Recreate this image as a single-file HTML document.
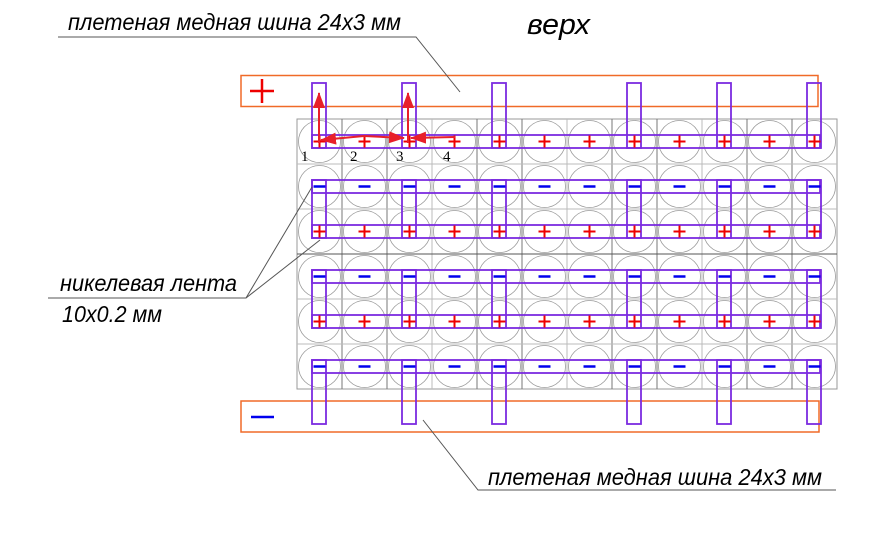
<!DOCTYPE html>
<html><head><meta charset="utf-8"><style>
html,body{margin:0;padding:0;background:#fff}
svg{display:block}
text{font-family:"Liberation Sans",sans-serif;font-style:italic}
</style></head><body>
<svg id="s" width="885" height="540" viewBox="0 0 885 540" xmlns="http://www.w3.org/2000/svg">
<defs>
<marker id="ah" markerWidth="16" markerHeight="12" refX="15" refY="6" orient="auto" markerUnits="userSpaceOnUse">
<path d="M0,0 L16,6 L0,12 z" fill="#e8202a"/>
</marker>
</defs>
<rect x="0" y="0" width="885" height="540" fill="#fff"/>
<rect x="241" y="75.5" width="577" height="31" fill="none" stroke="#f06a28" stroke-width="1.5"/>
<rect x="241" y="401" width="578" height="31" fill="none" stroke="#f06a28" stroke-width="1.5"/>
<line x1="250" y1="91" x2="274" y2="91" stroke="#e00" stroke-width="2.5"/>
<line x1="262" y1="79" x2="262" y2="103" stroke="#e00" stroke-width="2.5"/>
<line x1="251" y1="417" x2="274" y2="417" stroke="#00e" stroke-width="2.5"/>
<g id="grid"></g>
<g id="strips"></g>
<g id="signs"></g>
<g stroke="#e8202a" stroke-width="2" fill="none">
<line x1="319" y1="143" x2="319" y2="93" marker-end="url(#ah)"/>
<line x1="364" y1="136" x2="321" y2="140" marker-end="url(#ah)"/>
<line x1="364" y1="136" x2="404" y2="138" marker-end="url(#ah)"/>
<line x1="408" y1="143" x2="408" y2="93" marker-end="url(#ah)"/>
<line x1="455" y1="137" x2="411" y2="138" marker-end="url(#ah)"/>
</g>
<g font-size="15" fill="#000">
<text x="301" y="161" style="font-style:normal;font-family:'Liberation Serif',serif">1</text>
<text x="350" y="161" style="font-style:normal;font-family:'Liberation Serif',serif">2</text>
<text x="396" y="161" style="font-style:normal;font-family:'Liberation Serif',serif">3</text>
<text x="443" y="161" style="font-style:normal;font-family:'Liberation Serif',serif">4</text>
</g>
<g stroke="#555" stroke-width="1" fill="none">
<polyline points="58,37 416,37 460,92"/>
<polyline points="48,298 246,298 312,187"/>
<line x1="246" y1="298" x2="320" y2="240"/>
<polyline points="423,420 478,490 836,490"/>
</g>
<text x="68" y="30" font-size="23" textLength="333" lengthAdjust="spacingAndGlyphs">плетеная медная шина 24x3 мм</text>
<text x="527" y="34" font-size="29" textLength="63" lengthAdjust="spacingAndGlyphs">верх</text>
<text x="60" y="291" font-size="23" textLength="177" lengthAdjust="spacingAndGlyphs">никелевая лента</text>
<text x="62" y="322" font-size="23" textLength="100" lengthAdjust="spacingAndGlyphs">10x0.2 мм</text>
<text x="488" y="485" font-size="23" textLength="334" lengthAdjust="spacingAndGlyphs">плетеная медная шина 24x3 мм</text>
</svg>
<script>
var NS="http://www.w3.org/2000/svg";
function el(p,t,a){var e=document.createElementNS(NS,t);for(var k in a)e.setAttribute(k,a[k]);p.appendChild(e);return e;}
var g=document.getElementById("grid"),st=document.getElementById("strips"),sg=document.getElementById("signs");
var X0=297,Y0=119,C=45;
el(g,"rect",{x:X0,y:Y0,width:12*C,height:6*C,fill:"none",stroke:"#999","stroke-width":1});
for(var i=1;i<12;i++)el(g,"line",{x1:X0+i*C,y1:Y0,x2:X0+i*C,y2:Y0+6*C,stroke:(i%3==0?"#bbb":"#777"),"stroke-width":1});
for(var j=1;j<6;j++)el(g,"line",{x1:X0,y1:Y0+j*C,x2:X0+12*C,y2:Y0+j*C,stroke:(j==3?"#555":"#bbb"),"stroke-width":1});
for(var r=0;r<6;r++)for(var c=0;c<12;c++)el(g,"circle",{cx:X0+C/2+c*C,cy:Y0+C/2+r*C,r:21,fill:"none",stroke:"#999","stroke-width":0.8});
var P="#7b2be0";
for(var r=0;r<6;r++){var y=135+45*r;el(st,"rect",{x:312,y:y,width:508,height:13,fill:"none",stroke:P,"stroke-width":1.8});}
var cols=[0,2,4,7,9,11];
cols.forEach(function(c){var x=312+c*C;
 el(st,"rect",{x:x,y:83,width:14,height:65,fill:"none",stroke:P,"stroke-width":1.8});
 el(st,"rect",{x:x,y:180,width:14,height:58,fill:"none",stroke:P,"stroke-width":1.8});
 el(st,"rect",{x:x,y:270,width:14,height:58,fill:"none",stroke:P,"stroke-width":1.8});
 el(st,"rect",{x:x,y:360,width:14,height:64,fill:"none",stroke:P,"stroke-width":1.8});
});
for(var r=0;r<6;r++)for(var c=0;c<12;c++){var cx=X0+C/2+c*C;var y=141.5+45*r;
 if(r%2==0){el(sg,"line",{x1:cx-6,y1:y,x2:cx+6,y2:y,stroke:"#e00","stroke-width":2});el(sg,"line",{x1:cx,y1:y-6,x2:cx,y2:y+6,stroke:"#e00","stroke-width":2});}
 else{el(sg,"line",{x1:cx-6,y1:y,x2:cx+6,y2:y,stroke:"#00e","stroke-width":2.5});}
}
</script>
</body></html>
